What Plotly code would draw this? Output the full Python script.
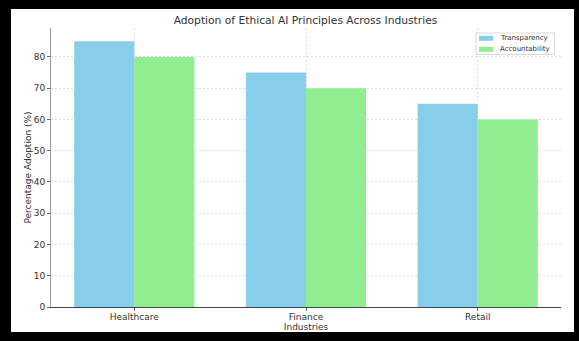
import plotly.graph_objects as go

industries = ["Healthcare", "Finance", "Retail"]
transparency = [85, 75, 65]
accountability = [80, 70, 60]
y_ticks = [0, 10, 20, 30, 40, 50, 60, 70, 80]
series_names = ["Transparency", "Accountability"]
series_colors = ["#87CEEB", "#90EE90"]

W, H = 579, 341
L, R, T, B = 51, 18, 28, 34
pw, ph = W - L - R, H - T - B

x_idx = list(range(len(industries)))
bw = 0.35

fig = go.Figure()
for k, (vals, off) in enumerate([(transparency, -bw / 2), (accountability, bw / 2)]):
    fig.add_trace(go.Bar(x=[i + off for i in x_idx], y=vals, width=bw,
                         name=series_names[k], showlegend=False,
                         marker=dict(color=series_colors[k], line=dict(width=0))))

def px2x(px):
    return (px - L) / pw

def px2y(py):
    return (H - B - py) / ph

# outer white panel on black frame
fig.add_shape(type="rect", xref="paper", yref="paper",
              x0=px2x(11), x1=px2x(574), y0=px2y(332), y1=px2y(9),
              fillcolor="white", line=dict(width=0), layer="below")

# custom compact legend
fig.add_shape(type="rect", xref="paper", yref="paper",
              x0=px2x(476), x1=px2x(554.5), y0=px2y(54.5), y1=px2y(33),
              fillcolor="white", line=dict(color="#d8d8d8", width=1), layer="above")
for k, name in enumerate(series_names):
    cy = 38.3 + 11 * k
    fig.add_shape(type="rect", xref="paper", yref="paper",
                  x0=px2x(479), x1=px2x(493), y0=px2y(cy + 2.5), y1=px2y(cy - 2.5),
                  fillcolor=series_colors[k], line=dict(width=0), layer="above")
    fig.add_annotation(xref="paper", yref="paper", x=px2x(498), y=px2y(cy),
                       xanchor="left", yanchor="middle", text=name, showarrow=False,
                       font=dict(size=7, color="#333333"))

font = "DejaVu Sans, sans-serif"
fig.update_layout(
    width=W, height=H,
    margin=dict(l=L, r=R, t=T, b=B, pad=0, autoexpand=False),
    paper_bgcolor="black",
    plot_bgcolor="rgba(0,0,0,0)",
    font=dict(family=font, size=9, color="#333333"),
    title=dict(text="Adoption of Ethical AI Principles Across Industries",
               x=305.5 / W, xanchor="center", y=1 - 20 / H, yanchor="middle",
               font=dict(size=10.7, color="#333333", family=font)),
    barmode="overlay",
    showlegend=False,
    xaxis=dict(range=[-0.485, 2.485], tickmode="array", tickvals=x_idx, ticktext=industries,
               showgrid=True, gridcolor="#dddddd", griddash="2px,2px", gridwidth=0.6,
               showline=True, linecolor="#444444", linewidth=1,
               ticks="outside", ticklen=3, tickcolor="#666666", ticklabelstandoff=-2,
               tickfont=dict(size=9, color="#333333"), automargin=False,
               title=dict(text="Industries", font=dict(size=9, color="#333333"), standoff=2),
               zeroline=False),
    yaxis=dict(range=[0, 89.25], tickmode="array", tickvals=y_ticks,
               showgrid=True, gridcolor="#dddddd", griddash="2px,2px", gridwidth=0.6,
               showline=True, linecolor="#999999", linewidth=1,
               ticks="outside", ticklen=3, tickcolor="#666666",
               tickfont=dict(size=9, color="#333333"), automargin=False,
               title=dict(text="Percentage Adoption (%)", font=dict(size=9, color="#333333"), standoff=0),
               zeroline=False),
)

fig.write_html("out.html")
